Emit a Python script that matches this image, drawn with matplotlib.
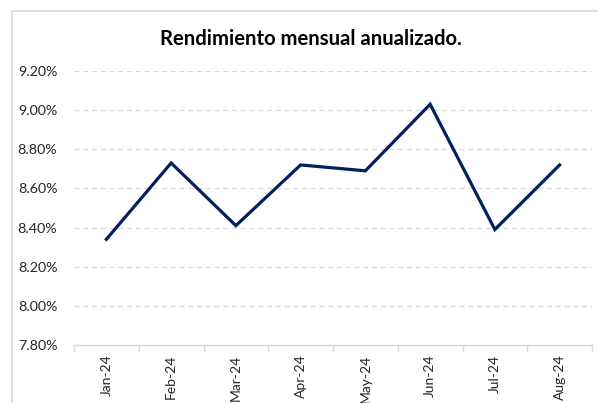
import matplotlib.pyplot as plt
from matplotlib.patches import Rectangle
from matplotlib.ticker import FuncFormatter, FixedLocator, NullFormatter

months = ['Jan-24', 'Feb-24', 'Mar-24', 'Apr-24', 'May-24', 'Jun-24', 'Jul-24', 'Aug-24']
rend = [8.34, 8.73, 8.41, 8.72, 8.69, 9.03, 8.39, 8.72]

plt.rcParams['font.family'] = ['Lato', 'DejaVu Sans']

fig = plt.figure(figsize=(5.98, 4.03), dpi=100)
# chart area border (extends past the image on right/bottom)
fig.patches.append(Rectangle((12 / 598, -0.1), 1.2, 1 - 11 / 403 + 0.1,
                             transform=fig.transFigure, fill=False,
                             edgecolor='#d9d9d9', linewidth=1.2))

ax = fig.add_axes([74 / 598, 1 - 345 / 403, (592 - 74) / 598, (345 - 71) / 403])
x = list(range(len(months)))
ax.plot(x, rend, color='#002060', linewidth=2.3, solid_joinstyle='miter')

ax.set_xlim(-0.5, len(months) - 0.5)
ax.set_ylim(7.8, 9.2)
ax.set_yticks([7.8 + 0.2 * i for i in range(8)])
ax.yaxis.set_major_formatter(FuncFormatter(lambda v, p: f'{v:.2f}%'))
ax.grid(axis='y', color='#d9d9d9', linestyle=(0, (4, 3)), linewidth=0.9)
ax.set_axisbelow(True)

ax.set_xticks(x)
ax.set_xticklabels(months, rotation=90)
ax.xaxis.set_minor_locator(FixedLocator([i - 0.5 for i in range(len(months) + 1)]))
ax.xaxis.set_minor_formatter(NullFormatter())
ax.tick_params(axis='x', which='major', length=0, pad=7, labelsize=10, colors='#262626')
ax.tick_params(axis='x', which='minor', length=5, color='#d9d9d9', width=1)
ax.tick_params(axis='y', length=0, pad=12, labelsize=10.3, colors='#262626')

for s in ['top', 'right', 'left']:
    ax.spines[s].set_visible(False)
ax.spines['bottom'].set_color('#d9d9d9')
ax.spines['bottom'].set_linewidth(1)

fig.text(311 / 598, 1 - 39 / 403, 'Rendimiento mensual anualizado.', ha='center', va='center',
         fontsize=14.6, fontweight='bold', color='black')

fig.savefig('out.png', dpi=100)
